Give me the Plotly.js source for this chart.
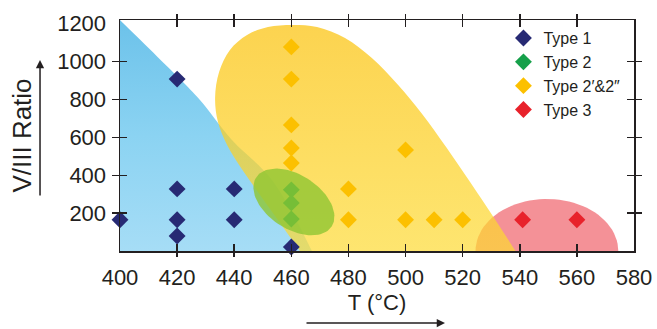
<!DOCTYPE html>
<html>
<head>
<meta charset="utf-8">
<script src="https://cdn.plot.ly/plotly-3.0.1.min.js"></script>
<style>html,body{margin:0;padding:0;background:#fff;}#chart{width:657px;height:329px;}</style>
</head>
<body>
<div id="chart"></div>
<script>
// ---- data ----
const type1T = [400, 420, 420, 420, 420, 440, 440, 460];
const type1V = [165, 908, 328, 165, 79, 328, 165, 21];
const type2T = [460, 460, 460];
const type2V = [323, 254, 169];
const type2pT = [460, 460, 460, 460, 460, 480, 480, 500, 500, 510, 520];
const type2pV = [1078, 908, 666, 544, 465, 328, 165, 534, 165, 165, 165];
const type3T = [541, 560];
const type3V = [165, 165];

const seriesNames = ['Type 1', 'Type 2', 'Type 2\u2032&2\u2033', 'Type 3'];
const xTickVals = [400, 420, 440, 460, 480, 500, 520, 540, 560, 580];
const yTickVals = [200, 400, 600, 800, 1000, 1200];
const xMarkVals = [420, 440, 460, 480, 500, 520, 540, 560];
const yMarkVals = [200, 400, 600, 800, 1000];

// growth-regime regions (boundaries, data units)
const blueEdgeT = [396.5, 400, 421, 428, 439.2, 453.2, 467.2];
const blueEdgeV = [1273, 1220, 908, 797, 586, 375, 0];
const yellowEdgeT = [466.5, 455.3, 448.3, 442.4, 437.5, 434.3, 433.3, 434.7, 438.5, 444.5, 451.8, 460.6, 469.0, 478.8, 488.2, 497.4, 505.8, 514.2, 522.6, 531.0, 540.1, 542.5];
const yellowEdgeV = [-74, 164, 312, 438, 560, 681, 808, 945, 1062, 1141, 1183, 1194, 1183, 1125, 1019, 877, 724, 549, 364, 174, -37, -90];
const greenEllipse = {cT: 460.9, cV: 259, aPx: 45, bPx: 27, angleDeg: 33};
const redEllipse = {cT: 549.5, cV: 0, rT: 25, rV: 275};

const xRange = [400, 580], yRange = [0, 1220];
const W = 657, H = 329, M = {l: 120, r: 23, t: 20, b: 78};
const pxPerT = (W - M.l - M.r) / (xRange[1] - xRange[0]);
const pxPerV = (H - M.t - M.b) / (yRange[1] - yRange[0]);

function ellipseTilted(e, n) {
  const th = e.angleDeg * Math.PI / 180, xs = [], ys = [];
  for (let i = 0; i <= n; i++) {
    const p = 2 * Math.PI * i / n;
    const dx = e.aPx * Math.cos(p) * Math.cos(th) - e.bPx * Math.sin(p) * Math.sin(th);
    const dy = e.aPx * Math.cos(p) * Math.sin(th) + e.bPx * Math.sin(p) * Math.cos(th);
    xs.push(e.cT + dx / pxPerT); ys.push(e.cV - dy / pxPerV);
  }
  return [xs, ys];
}
function ellipseAxis(e, n) {
  const xs = [], ys = [];
  for (let i = 0; i <= n; i++) {
    const p = 2 * Math.PI * i / n;
    xs.push(e.cT + e.rT * Math.cos(p)); ys.push(e.cV + e.rV * Math.sin(p));
  }
  return [xs, ys];
}
const [gX, gY] = ellipseTilted(greenEllipse, 90);
const [rX, rY] = ellipseAxis(redEllipse, 90);

const FONT = 'Liberation Sans, Arial, Helvetica, sans-serif';
const INK = '#231f20';
const region = {mode: 'lines', hoverinfo: 'skip', showlegend: false};

const traces = [
  Object.assign({}, region, {x: blueEdgeT, y: blueEdgeV, fill: 'tozeroy',
    line: {width: 0, shape: 'spline', color: 'rgba(0,0,0,0)'},
    fillcolor: '#8ad2f2',
    fillgradient: {type: 'vertical', start: 0, stop: 1220,
      colorscale: [[0, '#a6ddf6'], [0.5, '#8bd3f2'], [1, '#6cc2ea']]}}),
  Object.assign({}, region, {x: rX, y: rY, fill: 'toself',
    line: {width: 0, color: 'rgba(0,0,0,0)'}, fillcolor: 'rgba(234,44,56,0.52)'}),
  Object.assign({}, region, {x: yellowEdgeT, y: yellowEdgeV, fill: 'toself',
    line: {width: 0, shape: 'spline', smoothing: 1, color: 'rgba(0,0,0,0)'},
    fillcolor: 'rgba(252,205,30,0.72)',
    fillgradient: {type: 'vertical', start: 0, stop: 1220,
      colorscale: [[0, 'rgba(253,218,50,0.7)'], [1, 'rgba(251,196,20,0.75)']]}}),
  {x: type2pT, y: type2pV, mode: 'markers', name: seriesNames[2], legendrank: 3,
    marker: {symbol: 'diamond', size: 13, color: '#fcc000'}},
  {x: type2T, y: type2V, mode: 'markers', name: seriesNames[1], legendrank: 2,
    marker: {symbol: 'diamond', size: 13, color: '#16a04a'}},
  Object.assign({}, region, {x: gX, y: gY, fill: 'toself',
    line: {width: 0, color: 'rgba(0,0,0,0)'}, fillcolor: 'rgba(142,198,50,0.8)'}),
  {x: type1T, y: type1V, mode: 'markers', name: seriesNames[0], legendrank: 1,
    marker: {symbol: 'diamond', size: 13, color: '#272a74'}},
  {x: type3T, y: type3V, mode: 'markers', name: seriesNames[3], legendrank: 4,
    marker: {symbol: 'diamond', size: 13, color: '#e8222b'}},
  {x: [], y: [], xaxis: 'x2', yaxis: 'y2', showlegend: false, hoverinfo: 'skip'},
  {x: [], y: [], xaxis: 'x3', yaxis: 'y3', showlegend: false, hoverinfo: 'skip'}
];
traces.forEach(t => { if (t.mode === 'markers') t.cliponaxis = false; });

const tickAxis = (dir, len, vals, rng) => ({
  range: rng, tickmode: 'array', tickvals: vals, ticks: dir, ticklen: len,
  tickwidth: 1.5, tickcolor: INK, mirror: 'ticks', showticklabels: false,
  showline: false, showgrid: false, zeroline: false, fixedrange: true
});

const layout = {
  width: W, height: H, margin: M,
  paper_bgcolor: '#fff', plot_bgcolor: 'rgba(0,0,0,0)',
  font: {family: FONT, color: INK},
  showlegend: true,
  legend: {x: 0.746, y: 0.995, xanchor: 'left', yanchor: 'top', bgcolor: 'rgba(0,0,0,0)',
    font: {family: FONT, size: 16, color: INK}, tracegroupgap: 0, itemsizing: 'trace'},
  xaxis: {range: xRange, tickmode: 'array', tickvals: xTickVals, ticks: 'outside',
    ticklen: 6, tickcolor: 'rgba(0,0,0,0)', showline: true, mirror: true,
    linecolor: INK, linewidth: 1.5, showgrid: false, zeroline: false,
    tickfont: {family: FONT, size: 22, color: INK},
    title: {text: 'T (\u00b0C)', font: {family: FONT, size: 22, color: INK}, standoff: 3}},
  yaxis: {range: yRange, tickmode: 'array', tickvals: yTickVals, ticks: 'outside',
    ticklen: 8, tickcolor: 'rgba(0,0,0,0)', showline: true, mirror: true,
    linecolor: INK, linewidth: 1.5, showgrid: false, zeroline: false,
    tickfont: {family: FONT, size: 22, color: INK},
    title: {text: 'V/III Ratio', font: {family: FONT, size: 26, color: INK}, standoff: 18}},
  xaxis2: Object.assign(tickAxis('outside', 5, xMarkVals, xRange), {overlaying: 'x', anchor: 'y2'}),
  yaxis2: Object.assign(tickAxis('outside', 7, yMarkVals, yRange), {overlaying: 'y', anchor: 'x2'}),
  xaxis3: Object.assign(tickAxis('inside', 7, xMarkVals, xRange), {overlaying: 'x', anchor: 'y3'}),
  yaxis3: Object.assign(tickAxis('inside', 7, yMarkVals, yRange), {overlaying: 'y', anchor: 'x3'}),
  annotations: [
    {xref: 'paper', yref: 'paper', x: -0.1556, y: 0.8268, ax: 0, ay: 137, text: '',
      showarrow: true, arrowhead: 2, arrowsize: 1.1, arrowwidth: 1.5, arrowcolor: INK, standoff: 0},
    {xref: 'paper', yref: 'paper', x: 0.6323, y: -0.3117, ax: -140, ay: 0, text: '',
      showarrow: true, arrowhead: 2, arrowsize: 1.1, arrowwidth: 1.5, arrowcolor: INK, standoff: 0}
  ]
};

Plotly.newPlot('chart', traces, layout, {staticPlot: true, displayModeBar: false});
</script>
</body>
</html>
